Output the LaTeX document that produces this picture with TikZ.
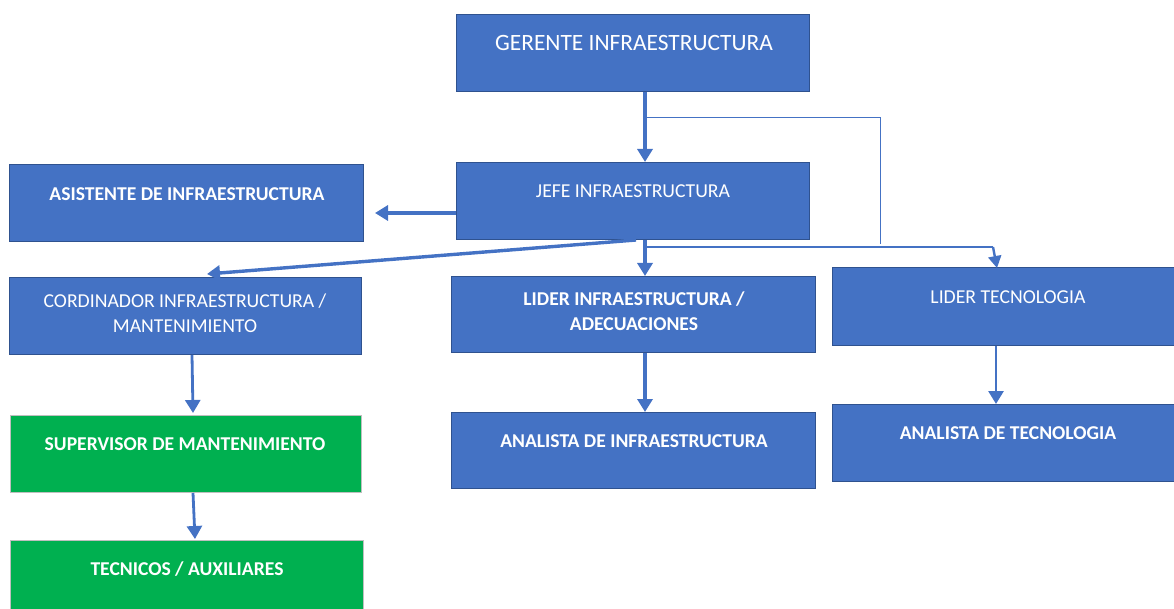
\documentclass[tikz,border=0pt]{standalone}
\usepackage{fontspec}
\setmainfont{Carlito}
\usetikzlibrary{arrows.meta}
\definecolor{boxblue}{HTML}{4472C4}
\definecolor{boxedge}{HTML}{2F528F}
\definecolor{boxgreen}{HTML}{00B050}
\definecolor{greenedge}{HTML}{BFBFBF}
\begin{document}
\begin{tikzpicture}[x=1pt,y=-1pt,
  bluebox/.style={draw=boxedge,line width=1.2pt,fill=boxblue,inner sep=0pt,anchor=north west},
  greenbox/.style={draw=greenedge,line width=1.2pt,fill=boxgreen,inner sep=0pt,anchor=north west},
  lbl/.style={text=white,font=\fontsize{19.7}{25.5}\selectfont,align=center,inner sep=0pt},
  blbl/.style={lbl,font=\fontsize{19.6}{25.5}\selectfont\bfseries},
  link/.style={draw=boxblue,line width=3.4pt,-{Triangle[width=15pt,length=13pt]}},
  thin/.style={draw=boxblue,line width=1pt}]
\useasboundingbox (0,0) rectangle (1174,609);

% boxes
\node[bluebox,minimum width=353pt,minimum height=77pt] (ger) at (456,14) {};
\node[bluebox,minimum width=353pt,minimum height=77pt] (jefe) at (456,162) {};
\node[bluebox,minimum width=354pt,minimum height=77pt] (asis) at (9,164) {};
\node[bluebox,minimum width=352pt,minimum height=77pt] (cord) at (9,277) {};
\node[bluebox,minimum width=364pt,minimum height=76pt] (linf) at (451,276) {};
\node[bluebox,minimum width=346pt,minimum height=78pt] (ltec) at (832,267) {};
\node[greenbox,minimum width=351pt,minimum height=77pt] (sup) at (10,415) {};
\node[greenbox,minimum width=353pt,minimum height=75pt] (tec) at (10,540) {};
\node[bluebox,minimum width=364pt,minimum height=76pt] (ainf) at (451,412) {};
\node[bluebox,minimum width=346pt,minimum height=77pt] (atec) at (832,404) {};

% labels
\node[lbl,font=\fontsize{23.4}{28}\selectfont] (tger) at (634,43) {GERENTE INFRAESTRUCTURA};
\node[lbl] (tjefe) at (633,191) {JEFE INFRAESTRUCTURA};
\node[blbl] (tasis) at (187,194) {ASISTENTE DE INFRAESTRUCTURA};
\node[lbl] (tcord) at (185,313) {CORDINADOR INFRAESTRUCTURA /\\MANTENIMIENTO};
\node[blbl] (tlinf) at (634,311) {LIDER INFRAESTRUCTURA /\\ADECUACIONES};
\node[lbl] (tltec) at (1008,297) {LIDER TECNOLOGIA};
\node[blbl] (tsup) at (185,444) {SUPERVISOR DE MANTENIMIENTO};
\node[blbl] (ttec) at (187,569) {TECNICOS / AUXILIARES};
\node[blbl] (tainf) at (634,441) {ANALISTA DE INFRAESTRUCTURA};
\node[blbl] (tatec) at (1008,433) {ANALISTA DE TECNOLOGIA};

% connectors
\coordinate (g1) at (645,118);
\coordinate (j1) at (645,247);
\coordinate (j2) at (993,247);
\draw[thin] (g1) -- (880,118) -- (880,244);
\draw[link] (ger.south -| g1) -- (jefe.north -| g1);
\draw[link] (jefe.south -| g1) -- (linf.north -| g1);
\draw[thin,line width=1.6pt] (jefe.south -| j1) -- (j1) -- (j2);
\draw[link,line width=2.4pt,-{Triangle[width=13pt,length=12pt]}] (j2) -- (997,268);
\draw[link] (jefe.west |- 0,213) -- (375,213);
\draw[link] (636,240) -- (207,274);
\draw[link,line width=2.8pt] (192,355) -- (193,413);
\draw[link,line width=2.8pt] (193,493) -- (195,539);
\draw[link] (linf.south -| g1) -- (ainf.north -| g1);
\draw[link,line width=2.8pt] (ltec.south -| 996,0) -- (atec.north -| 996,0);
\end{tikzpicture}
\end{document}
